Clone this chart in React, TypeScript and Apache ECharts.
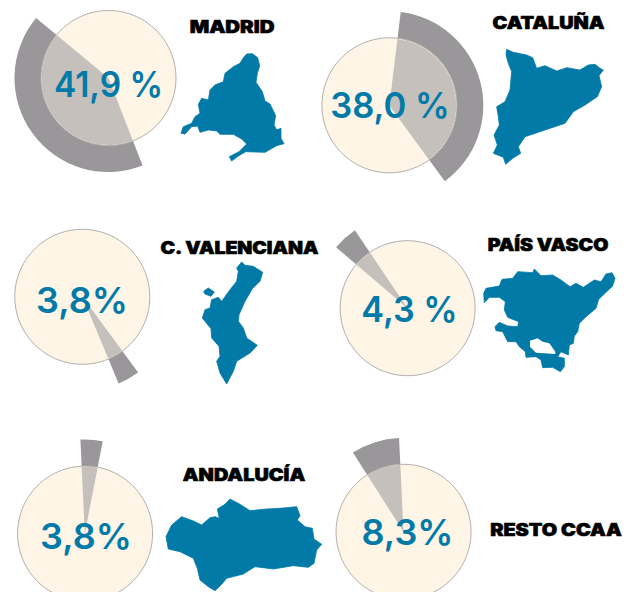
import React, { useEffect, useRef } from "react";
import * as echarts from "echarts";

const regions = ["MADRID", "CATALUÑA", "C. VALENCIANA", "PAÍS VASCO", "ANDALUCÍA", "RESTO CCAA"];
const shares = [41.9, 38.0, 3.8, 4.3, 3.8, 8.3];
const shareLabels = ["41,9 %", "38,0 %", "3,8%", "4,3 %", "3,8%", "8,3%"];
const startAngles = [140.4, -53.8, -67.4, 124, 79, 92.7];
const centers = [[108.5, 78], [389.3, 105.4], [82.5, 296.7], [407.5, 308.3], [84.8, 533.5], [403.5, 531.8]];
const valueLabelPos = [[108.5, 83.5], [390, 105], [82, 300], [409.5, 309], [86, 535.5], [407.5, 532]];
const valueStretch = [0.93, 0.96, 1, 0.95, 1, 1];
const titlePos = [[232, 27], [548.5, 22.5], [239.5, 247.5], [548, 245], [244, 475], [556, 529.5]];
const titleStretch = [1.2, 1.165, 1.146, 1.15, 1.17, 1.168];

const R_INNER = 67.5;
const R_OUTER = 94;
const BLUE = "#027AA8";
const CREAM = "#FEF5E6";
const RIM = "#B2AFAD";
const GREY = "#9A979A";
const OVERLAP = "#C5C0BB";

type Outline = { ox: number; oy: number; pts: number[][]; fill?: string };

const madridMap: Outline = { ox: 175, oy: 45, pts: [[215,27],[232,26],[248,38],[254,62],[247,85],[243,112],[262,140],[270,168],[285,177],[302,212],[297,240],[305,255],[318,250],[318,280],[327,296],[305,302],[270,322],[212,320],[190,333],[170,348],[163,335],[192,320],[215,297],[200,282],[175,268],[135,268],[125,258],[100,255],[75,262],[68,243],[50,245],[30,267],[18,265],[25,245],[50,235],[60,215],[75,205],[70,178],[80,160],[100,165],[105,135],[120,120],[145,110],[150,85],[175,65],[195,55],[205,38]] };
const cataloniaMap: Outline = { ox: 490, oy: 45, pts: [[50,13],[70,22],[110,30],[128,38],[140,70],[165,62],[200,78],[230,68],[270,75],[295,60],[315,58],[330,70],[340,75],[327,92],[335,125],[322,155],[285,180],[250,200],[225,235],[180,250],[145,262],[105,275],[85,305],[92,325],[68,340],[47,358],[40,337],[10,325],[22,300],[12,270],[28,240],[25,215],[20,185],[45,170],[60,135],[65,80],[55,55],[48,30]] };
const valenciaMap: Outline = { ox: 195, oy: 258, pts: [[140,12],[150,22],[175,25],[203,43],[195,70],[172,92],[150,130],[132,170],[130,190],[145,210],[155,240],[187,262],[165,285],[125,310],[115,340],[95,378],[75,345],[65,310],[75,295],[72,265],[50,240],[48,212],[22,180],[30,155],[45,150],[50,125],[70,118],[80,130],[105,95],[125,70],[130,40],[125,30]] };
const valenciaIslet: Outline = { ox: 195, oy: 258, pts: [[26,100],[40,90],[58,102],[48,115],[30,108]] };
const vascoMap: Outline = { ox: 316, oy: 210, pts: [[510,235],[550,228],[558,208],[590,205],[605,185],[650,188],[655,177],[675,197],[710,195],[735,210],[762,230],[780,220],[802,232],[835,210],[855,215],[870,192],[888,188],[897,205],[890,228],[848,268],[840,295],[810,320],[790,340],[785,365],[775,378],[772,400],[760,405],[757,435],[735,425],[725,440],[745,445],[745,470],[733,485],[710,472],[680,473],[675,450],[660,440],[630,442],[628,425],[610,410],[600,395],[575,395],[560,365],[540,362],[537,350],[550,337],[575,348],[605,350],[608,335],[575,322],[565,300],[568,275],[550,262],[520,262],[505,278],[503,250]] };
const vascoHole: Outline = { ox: 316, oy: 210, fill: "#FFFFFF", pts: [[642,392],[665,385],[680,395],[700,400],[718,425],[718,432],[685,430],[660,428],[642,410]] };
const andaluciaMap: Outline = { ox: 160, oy: 495, pts: [[210,12],[235,25],[270,47],[320,42],[360,40],[410,35],[420,62],[412,75],[435,95],[457,100],[462,132],[485,148],[470,165],[462,205],[445,217],[400,212],[340,222],[285,215],[250,237],[200,250],[185,268],[165,287],[145,275],[120,255],[112,220],[100,190],[60,170],[25,162],[18,125],[35,90],[65,65],[100,78],[125,90],[150,68],[165,65],[178,70],[172,42],[195,28]] };
const outlines = [madridMap, cataloniaMap, valenciaMap, valenciaIslet, vascoMap, vascoHole, andaluciaMap];

function buildOption() {
  const series: any[] = [];
  shares.forEach((v, i) => {
    const base = {
      type: "pie", silent: true, center: centers[i], label: { show: false }, labelLine: { show: false },
      clockwise: false, startAngle: startAngles[i], avoidLabelOverlap: false, minAngle: 0,
    };
    series.push({ ...base, name: regions[i] + " outer", radius: [0, R_OUTER], z: 2,
      data: [{ value: v, name: regions[i], itemStyle: { color: GREY } }, { value: 100 - v, name: "rest", itemStyle: { color: "transparent" } }] });
    series.push({ ...base, name: regions[i] + " disc", radius: [0, R_INNER], z: 3,
      data: [{ value: 100, name: "disc", itemStyle: { color: CREAM, borderColor: RIM, borderWidth: 1 } }] });
    series.push({ ...base, name: regions[i] + " inner", radius: [0, R_INNER - 0.5], z: 4,
      data: [{ value: v, name: regions[i], itemStyle: { color: OVERLAP } }, { value: 100 - v, name: "rest", itemStyle: { color: "transparent" } }] });
  });
  const graphics: any[] = outlines.map((o) => ({
    type: "polygon", z: 5, silent: true,
    shape: { points: o.pts.map(([x, y]) => [o.ox + x / 3, o.oy + y / 3]) },
    style: o.fill
      ? { fill: o.fill }
      : { fill: BLUE, stroke: BLUE, lineWidth: 0.8, lineJoin: "round" },
  }));
  shareLabels.forEach((t, i) => {
    graphics.push({ type: "text", z: 10, x: valueLabelPos[i][0], y: valueLabelPos[i][1], scaleX: valueStretch[i], silent: true,
      style: { text: t, fill: BLUE, font: '600 36px Inter', textAlign: "center", textVerticalAlign: "middle" } });
  });
  regions.forEach((t, i) => {
    graphics.push({ type: "text", z: 10, x: titlePos[i][0], y: titlePos[i][1], scaleX: titleStretch[i], silent: true,
      style: { text: t, fill: "#000000", stroke: "#000000", lineWidth: 0.6, font: '900 17px Inter', textAlign: "center", textVerticalAlign: "middle" } });
  });
  return { animation: false, backgroundColor: "#FFFFFF", series, graphic: { elements: graphics } };
}

export default function App() {
  const ref = useRef<HTMLDivElement>(null);
  useEffect(() => {
    const chart = echarts.init(ref.current!, undefined, { renderer: "svg" });
    chart.setOption(buildOption());
    return () => chart.dispose();
  }, []);
  return <div ref={ref} style={{ position: "absolute", left: 0, top: 0, width: 633, height: 592 }} />;
}
